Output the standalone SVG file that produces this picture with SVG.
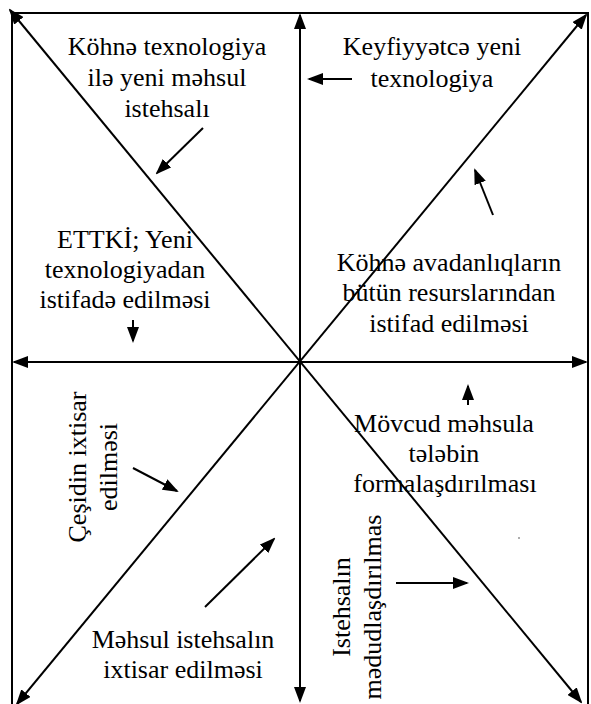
<svg xmlns="http://www.w3.org/2000/svg" width="591" height="704" viewBox="0 0 591 704">
  <style>
    .ln { stroke: #000; stroke-width: 2; fill: none; }
    .big { marker-start: url(#head); marker-end: url(#head); }
    .one { marker-end: url(#head); }
    .t { font-family: 'Liberation Serif', 'Times New Roman', serif; font-size: 26px; fill: #000; text-anchor: middle; }
  </style>
  <defs>
    <marker id="head" viewBox="0 0 16 12" markerWidth="16" markerHeight="12" refX="14" refY="6" orient="auto-start-reverse" markerUnits="userSpaceOnUse">
      <path d="M0,0 L16,6 L0,12 Z" fill="#000"/>
    </marker>
  </defs>
  <rect width="591" height="704" fill="#fff"/>

  <!-- frame, open at the bottom -->
  <path class="ln" d="M12,704 V13 H588 V704"/>

  <g id="connectors">
    <!-- main axes -->
    <line class="ln big" x1="14" y1="362" x2="586" y2="362"/>
    <line class="ln big" x1="300" y1="15" x2="300" y2="701"/>
    <!-- diagonals -->
    <line class="ln big" x1="10" y1="10" x2="581" y2="702"/>
    <line class="ln big" x1="586" y1="15" x2="17" y2="704"/>
    <!-- short pointers -->
    <line class="ln one" x1="203" y1="128" x2="157" y2="173"/>
    <line class="ln one" x1="352" y1="79" x2="309" y2="79"/>
    <line class="ln one" x1="493" y1="215" x2="475" y2="170"/>
    <line class="ln one" x1="133" y1="320" x2="133" y2="341"/>
    <line class="ln one" x1="468" y1="405" x2="468" y2="386"/>
    <line class="ln one" x1="133" y1="468" x2="177" y2="491"/>
    <line class="ln one" x1="205" y1="607" x2="274" y2="539"/>
    <line class="ln one" x1="396" y1="583" x2="467" y2="583"/>
  </g>

  <g id="n-top-left" class="t">
    <text x="167" y="55">Köhnə texnologiya</text>
    <text x="167" y="86">ilə yeni məhsul</text>
    <text x="167" y="117">istehsalı</text>
  </g>
  <g id="n-top-right" class="t">
    <text x="432" y="55">Keyfiyyətcə yeni</text>
    <text x="432" y="87">texnologiya</text>
  </g>
  <g id="n-left-upper" class="t">
    <text x="125" y="248">ETTKİ; Yeni</text>
    <text x="125" y="278">texnologiyadan</text>
    <text x="125" y="308">istifadə edilməsi</text>
  </g>
  <g id="n-right-upper" class="t">
    <text x="449" y="271">Köhnə avadanlıqların</text>
    <text x="449" y="301">bütün resurslarından</text>
    <text x="449" y="332">istifad edilməsi</text>
  </g>
  <g id="n-right-lower" class="t">
    <text x="444" y="432">Mövcud məhsula</text>
    <text x="444" y="462">tələbin</text>
    <text x="445" y="492">formalaşdırılması</text>
  </g>
  <g id="n-left-lower" class="t">
    <text transform="translate(86,467) rotate(-90)">Çeşidin ixtisar</text>
    <text transform="translate(117,467) rotate(-90)">edilməsi</text>
  </g>
  <g id="n-bottom-left" class="t">
    <text x="183" y="648">Məhsul istehsalın</text>
    <text x="183" y="678">ixtisar edilməsi</text>
  </g>
  <g id="n-bottom-right" class="t">
    <text transform="translate(350,607) rotate(-90)">Istehsalın</text>
    <text transform="translate(381,607) rotate(-90)">mədudlaşdırılmas</text>
  </g>
  <circle cx="519" cy="538" r="0.8" fill="#444"/>
</svg>
